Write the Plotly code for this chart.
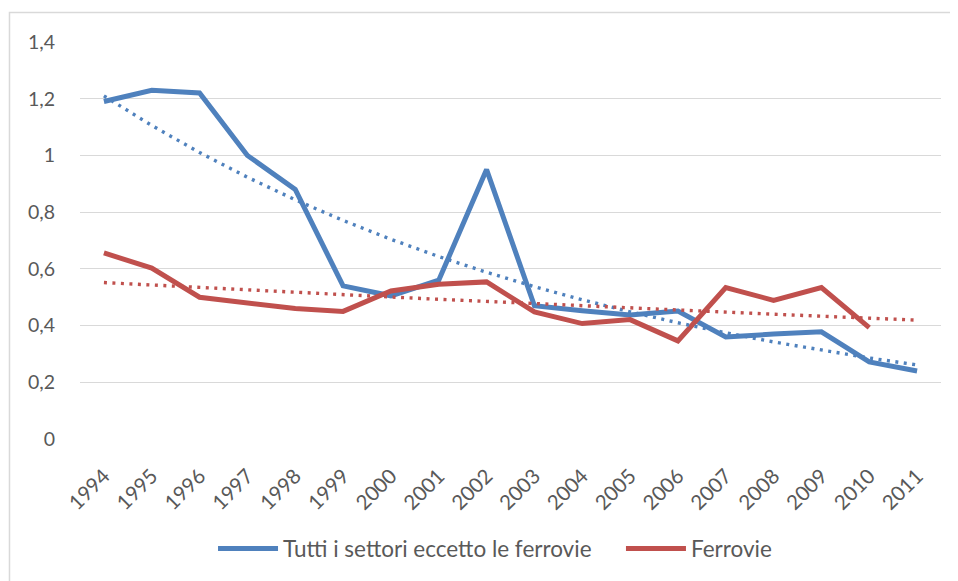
import numpy as np
import plotly.graph_objects as go

years = [str(y) for y in range(1994, 2012)]
tutti = [1.19, 1.23, 1.22, 1.00, 0.88, 0.54, 0.505, 0.56, 0.95, 0.47,
         0.452, 0.437, 0.451, 0.36, 0.37, 0.378, 0.272, 0.24]
ferrovie = [0.656, 0.603, 0.50, 0.48, 0.46, 0.45, 0.522, 0.546, 0.554, 0.448,
            0.407, 0.421, 0.346, 0.534, 0.489, 0.534, 0.393]

name_tutti = "Tutti i settori eccetto le ferrovie"
name_ferr = "Ferrovie"
blue = "#4F81BD"
red = "#C0504D"

# exponential trendlines (as in the Excel original), red forecast one period forward
xi = np.arange(len(years))
bt = np.polyfit(xi, np.log(tutti), 1)
rt = np.polyfit(np.arange(len(ferrovie)), np.log(ferrovie), 1)
trend_blue = np.exp(np.polyval(bt, xi))
trend_red = np.exp(np.polyval(rt, xi))

fig = go.Figure()
fig.add_trace(go.Scatter(x=years, y=tutti, mode="lines", name=name_tutti, legend="legend",
                         line=dict(color=blue, width=5)))
fig.add_trace(go.Scatter(x=years[:len(ferrovie)], y=ferrovie, mode="lines", name=name_ferr,
                         legend="legend2", line=dict(color=red, width=5)))
fig.add_trace(go.Scatter(x=years, y=trend_blue, mode="lines", showlegend=False,
                         line=dict(color=blue, width=3.4, dash="3px,5.5px"), hoverinfo="skip"))
fig.add_trace(go.Scatter(x=years, y=trend_red, mode="lines", showlegend=False,
                         line=dict(color=red, width=3.4, dash="3px,5.5px"), hoverinfo="skip"))

font = "Lato, 'Open Sans', sans-serif"
leg_common = dict(orientation="h", xanchor="left", y=-0.277, yanchor="middle",
                  font=dict(size=22.5, color="#595959"), itemwidth=60,
                  bgcolor="rgba(0,0,0,0)")
fig.update_layout(
    width=958, height=581,
    margin=dict(l=72, r=25, t=33.5, b=150, autoexpand=False),
    paper_bgcolor="white", plot_bgcolor="white",
    separators=",.",
    font=dict(family=font, size=18, color="#595959"),
    xaxis=dict(type="category", tickangle=-45, showgrid=False, zeroline=False,
               showline=False, ticks="outside", ticklen=16, tickcolor="rgba(0,0,0,0)",
               tickfont=dict(size=20.5, color="#595959"), range=[-0.5, 17.5], automargin=False),
    yaxis=dict(range=[0, 1.4], dtick=0.2, showgrid=True, gridcolor="#d9d9d9", gridwidth=1.3,
               zeroline=False, showline=False, ticks="outside", ticklen=20,
               tickcolor="rgba(0,0,0,0)", tickfont=dict(size=19.5, color="#595959"),
               automargin=False),
    legend=dict(x=0.1545, **leg_common),
    legend2=dict(x=0.6283, **leg_common),
    shapes=[dict(type="rect", xref="paper", yref="paper", x0=-0.0819, y0=-0.6,
                 x1=1.2, y1=1.0742, line=dict(color="#d9d9d9", width=1.5),
                 fillcolor="rgba(0,0,0,0)", layer="below")],
)
fig.write_html("out.html")
